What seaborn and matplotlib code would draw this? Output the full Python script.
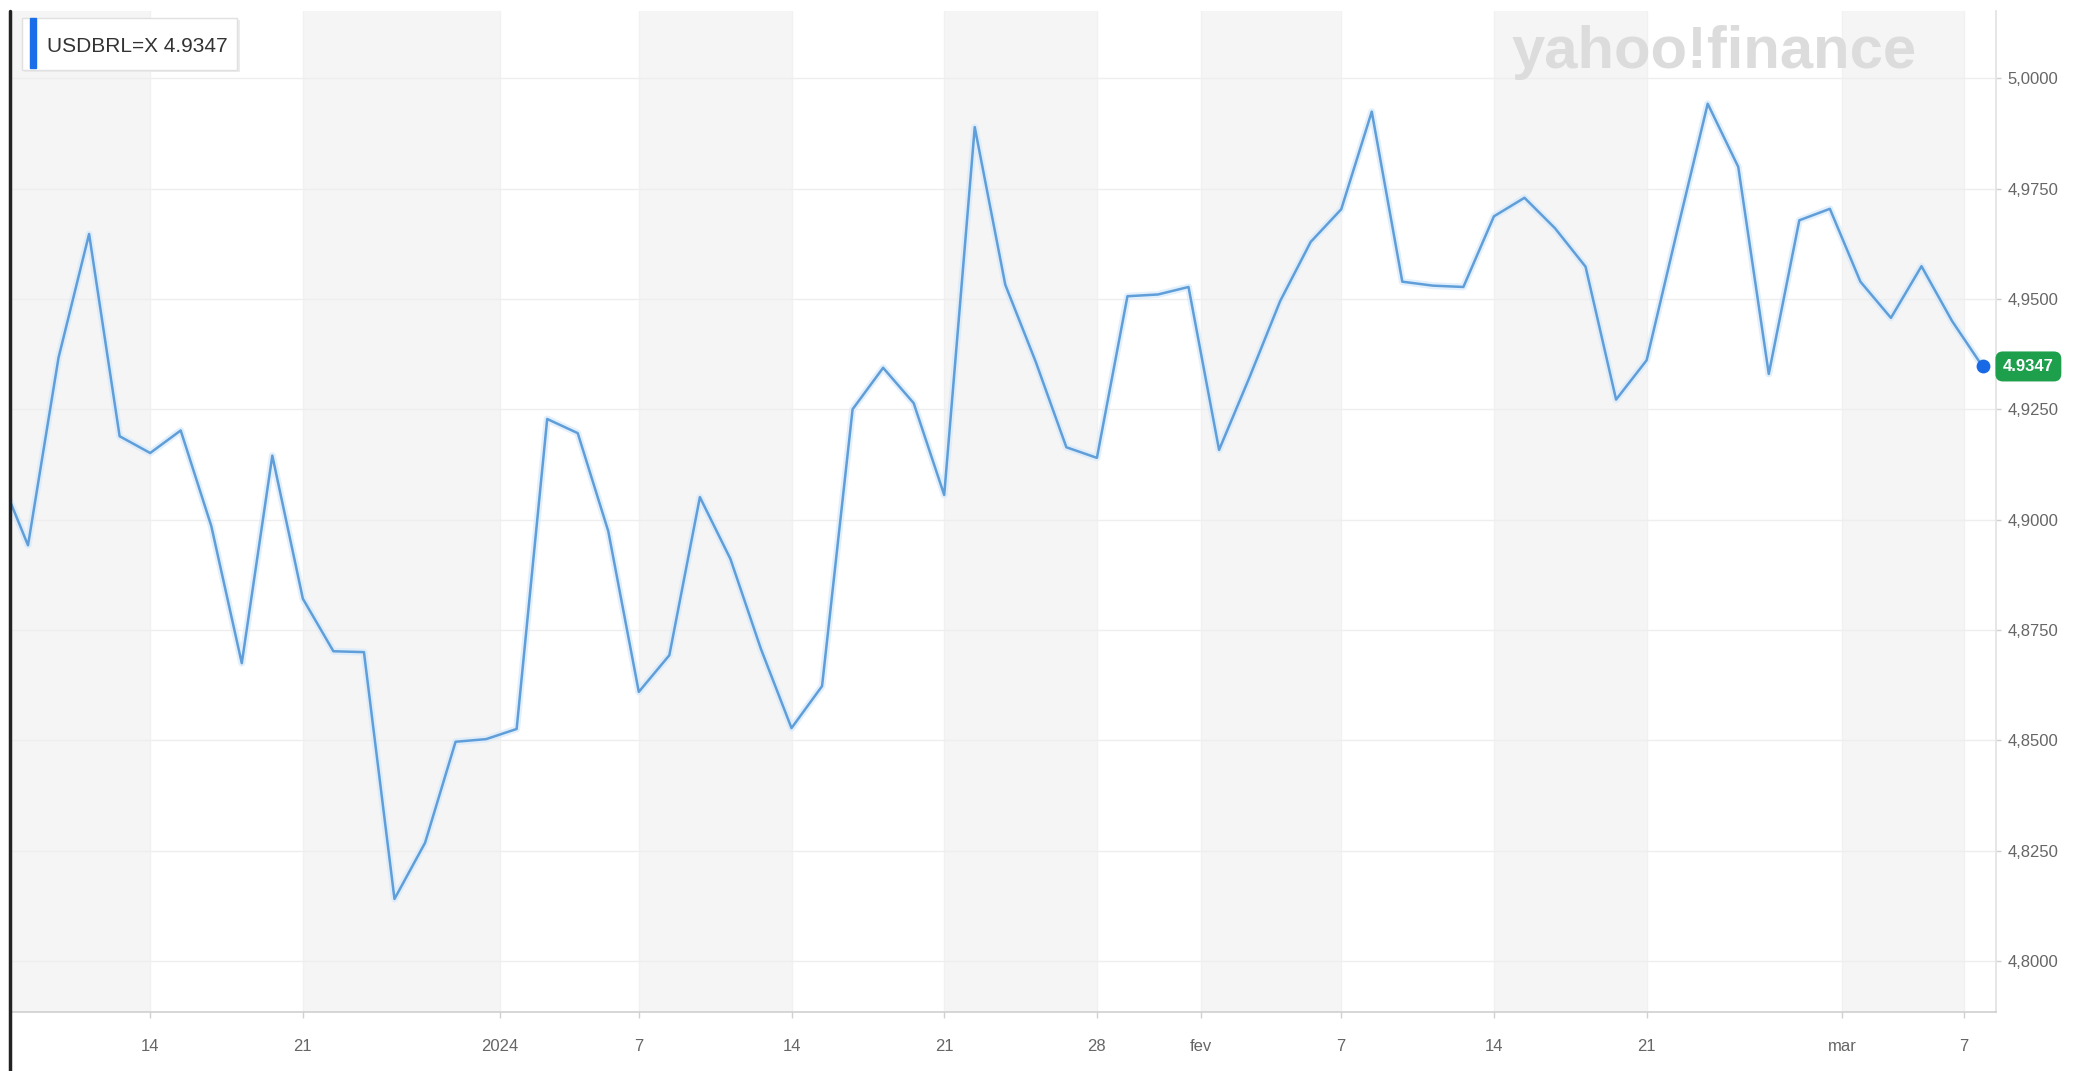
import numpy as np
import pandas as pd
import matplotlib
matplotlib.use("Agg")
import matplotlib.pyplot as plt
import matplotlib.ticker as mticker
from matplotlib.lines import Line2D
from matplotlib.patches import Rectangle, FancyBboxPatch
import seaborn as sns

sns.set_theme(style="white")
plt.rcParams["font.family"] = ["Liberation Sans", "DejaVu Sans"]

# USD/BRL daily closes, one point per trading session
# (the first point sits just left of the visible window)
session = list(range(-1, 65))
close = [
    4.9112, 4.8942, 4.9367, 4.9647, 4.9189, 4.9151, 4.9202, 4.8986, 4.8675, 4.9145, 4.8821,
    4.8702, 4.8700, 4.8141, 4.8268, 4.8497, 4.8503, 4.8526, 4.9228, 4.9196, 4.8974,
    4.8610, 4.8693, 4.9051, 4.8911, 4.8707, 4.8528, 4.8623, 4.9250, 4.9344, 4.9264,
    4.9056, 4.9889, 4.9532, 4.9357, 4.9164, 4.9140, 4.9506, 4.9510, 4.9527, 4.9158,
    4.9323, 4.9495, 4.9629, 4.9703, 4.9924, 4.9539, 4.9530, 4.9527, 4.9687, 4.9729,
    4.9660, 4.9573, 4.9272, 4.9361, 4.9654, 4.9942, 4.9799, 4.9330, 4.9678, 4.9704,
    4.9539, 4.9457, 4.9574, 4.9450, 4.9347,
]

# date ticks (position in sessions)
tick_pos = [4, 9, 15.45, 20, 25, 30, 35, 38.4, 43, 48, 53, 59.4, 63.4]
tick_labels = ["14", "21", "2024", "7", "14", "21", "28", "fev", "7", "14", "21", "mar", "7"]
y_ticks = [4.800, 4.825, 4.850, 4.875, 4.900, 4.925, 4.950, 4.975, 5.000]

symbol = "USDBRL=X"
last_price = 4.9347

df = pd.DataFrame({"session": session, "close": close})

W, H = 2073, 1071
fig = plt.figure(figsize=(W / 100, H / 100), dpi=100)
fig.patch.set_facecolor("white")
ax = fig.add_axes([12 / W, 1 - 1012 / H, (1996 - 12) / W, (1012 - 11) / H])

x_left, x_right = -0.524, 64.44

# alternating weekly shading
edges = [x_left] + tick_pos + [x_right]
for i in range(0, len(edges) - 1, 2):
    ax.axvspan(edges[i], edges[i + 1], color="#f5f5f5", lw=0, zorder=0)

# price line with a faint halo
sns.lineplot(data=df, x="session", y="close", color="#d6e9fb", linewidth=5,
             alpha=0.7, ax=ax, zorder=2)
sns.lineplot(data=df, x="session", y="close", color="#5f9ed8", linewidth=1.8,
             ax=ax, zorder=3)
ax.scatter([session[-1]], [close[-1]], s=80, color="#1769e6", zorder=4)

ax.set_xlim(x_left, x_right)
ax.set_ylim(4.7885, 5.0152)

ax.set_xticks(tick_pos)
ax.set_xticklabels(tick_labels)
ax.set_yticks(y_ticks)
ax.yaxis.set_major_formatter(mticker.FuncFormatter(lambda v, p: f"{v:.4f}".replace(".", ",")))
ax.yaxis.tick_right()

ax.grid(axis="y", color="#eeeeee", lw=1)
ax.grid(axis="x", color="#f1f1f1", lw=1)
ax.set_axisbelow(True)

for s in ["left", "top"]:
    ax.spines[s].set_visible(False)
ax.spines["bottom"].set_color("#cfcfcf")
ax.spines["right"].set_color("#e2e2e2")
ax.spines["bottom"].set_linewidth(1.2)
ax.spines["right"].set_linewidth(1.2)

ax.tick_params(axis="x", length=4.5, width=1, color="#d0d0d0", pad=15,
               labelsize=12, labelcolor="#666666", bottom=True)
ax.tick_params(axis="y", length=3.5, width=1, color="#d0d0d0", pad=5,
               labelsize=12, labelcolor="#666666", right=True)
ax.set_xlabel("")
ax.set_ylabel("")

# last price tag
ax.annotate(f"{last_price:.4f}", xy=(1, last_price), xycoords=("axes fraction", "data"),
            xytext=(5, 0), textcoords="offset points", ha="left", va="center",
            fontsize=12, fontweight="bold", color="white",
            bbox=dict(boxstyle="round,pad=0.45", fc="#1d9f4c", ec="none"))

# symbol box top left
fig.add_artist(FancyBboxPatch((24 / W, 1 - 72 / H), 216 / W, 52 / H,
                              boxstyle="square,pad=0", transform=fig.transFigure,
                              fc="#ececec", ec="none", zorder=5))
fig.add_artist(FancyBboxPatch((22 / W, 1 - 70 / H), 215 / W, 52 / H,
                              boxstyle="square,pad=0", transform=fig.transFigure,
                              fc="white", ec="#e0e0e0", lw=1, zorder=6))
fig.add_artist(Rectangle((30 / W, 1 - 68 / H), 6 / W, 50 / H,
                         transform=fig.transFigure, color="#1a6fe8", zorder=7))
fig.text(47 / W, 1 - 46 / H, f"{symbol} {last_price}", fontsize=15, color="#333333",
         ha="left", va="center", zorder=8)

# watermark
fig.text(1511 / W, 1 - 53 / H, "yahoo!finance", fontsize=43, fontweight="bold",
         color="#dcdcdc", ha="left", va="center", zorder=1)

# dark frame edge on the left of the screenshot
fig.add_artist(Line2D([10 / W, 10 / W], [0, 1 - 11 / H], transform=fig.transFigure,
                      color="#222222", lw=2.5))

fig.savefig("out.png", dpi=100)
